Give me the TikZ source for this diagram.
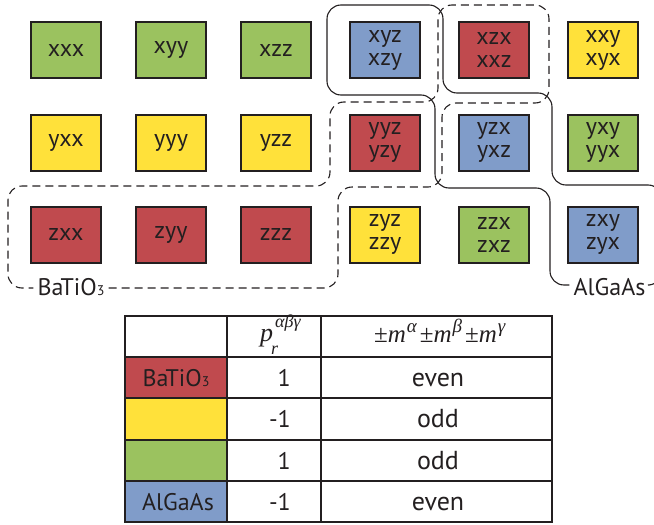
\documentclass[tikz,border=0pt]{standalone}
\usepackage{fontspec}
\setmainfont{PT Sans}
\newfontfamily\timesf{Liberation Serif}
\newcommand\tit{\timesf\itshape}
\newcommand\supsz{\fontsize{18}{18}\selectfont}
\newcommand\supszb{\fontsize{19}{19}\selectfont}
\definecolor{ink}{HTML}{231F20}
\definecolor{cgreen}{HTML}{9BC25F}
\definecolor{cyellow}{HTML}{FFE13A}
\definecolor{cred}{HTML}{C04A4E}
\definecolor{cblue}{HTML}{809CC9}
\newcommand\smallnum[1]{{\fontsize{14}{14}\selectfont #1}}
\begin{document}
\begin{tikzpicture}[x=1pt,y=-1pt,
  tensor/.style={draw=ink, line width=2pt, minimum width=70pt, minimum height=56pt,
    inner sep=0pt, align=center, text=ink, font=\fontsize{24}{23}\selectfont},
  band/.style={draw=ink, line width=1.1pt, rounded corners=14pt},
  dashband/.style={band, dash pattern=on 8pt off 5pt},
  tag/.style={text=ink, font=\fontsize{24}{24}\selectfont, inner sep=4pt},
  grid/.style={draw=ink, line width=2pt},
  cellt/.style={text=ink, font=\fontsize{24}{24}\selectfont, inner sep=0pt,
    text height=17pt, text depth=0pt},
  word/.style={cellt, font=\fontsize{26}{26}\selectfont},
  head/.style={text=ink, inner sep=0pt, anchor=base west}]
\useasboundingbox (0,0) rectangle (654,525);

% ---- tensor components, row x
\node[tensor, fill=cgreen]  (xxx) at (66,50)  {xxx};
\node[tensor, fill=cgreen]  (xyy) at (171,50) {xyy};
\node[tensor, fill=cgreen]  (xzz) at (276,50) {xzz};
\node[tensor, fill=cblue]   (xyz) at (385,50) {xyz\\xzy};
\node[tensor, fill=cred]    (xzx) at (494,50) {xzx\\xxz};
\node[tensor, fill=cyellow] (xxy) at (603,50) {xxy\\xyx};
% ---- row y
\node[tensor, fill=cyellow] (yxx) at (66,142.5)  {yxx};
\node[tensor, fill=cyellow] (yyy) at (171,142.5) {yyy};
\node[tensor, fill=cyellow] (yzz) at (276,142.5) {yzz};
\node[tensor, fill=cred]    (yyz) at (385,142.5) {yyz\\yzy};
\node[tensor, fill=cblue]   (yzx) at (494,142.5) {yzx\\yxz};
\node[tensor, fill=cgreen]  (yxy) at (603,142.5) {yxy\\yyx};
% ---- row z
\node[tensor, fill=cred]    (zxx) at (66,234.5)  {zxx};
\node[tensor, fill=cred]    (zyy) at (171,234.5) {zyy};
\node[tensor, fill=cred]    (zzz) at (276,234.5) {zzz};
\node[tensor, fill=cyellow] (zyz) at (385,234.5) {zyz\\zzy};
\node[tensor, fill=cgreen]  (zzx) at (494,234.5) {zzx\\zxz};
\node[tensor, fill=cblue]   (zxy) at (603,234.5) {zxy\\zyx};

% ---- material labels
\node[tag, anchor=base] (ba) at (71,295)    {BaTiO\smallnum{3}};
\node[tag, anchor=base] (al) at (609.5,295) {AlGaAs};
\coordinate (bline) at (0,288);
\coordinate (aline) at (0,285);

% ---- BaTiO3 group (dashed staircase)
\draw[dashband] (ba.east |- bline) -- (338,288) -- (338,187) -- (442,187)
  -- (442,103) -- (549,103) -- (549,5) -- (438,5) -- (438,102) -- (330,102)
  -- (330,186) -- (8,186) -- (8,288) -- (ba.west |- bline);

% ---- AlGaAs group (solid staircase)
\draw[band] (al.west |- aline) -- (550,285) -- (550,188) -- (435,188)
  -- (435,95) -- (327,95) -- (327,5) -- (443,5) -- (443,93) -- (552,93)
  -- (552,185) -- (662,185) -- (662,285) -- (al.east |- aline);

% ---- parity table
\fill[cred]    (125,357) rectangle (227,398);
\fill[cyellow] (125,398) rectangle (227,440);
\fill[cgreen]  (125,440) rectangle (227,481);
\fill[cblue]   (125,481) rectangle (227,522);
\draw[grid] (125,316) rectangle (552,522);
\foreach \y in {357,398,440,481} \draw[grid] (125,\y) -- (552,\y);
\foreach \x in {227,321} \draw[grid] (\x,316) -- (\x,522);

\node[head, font=\fontsize{26}{26}\selectfont] (hp) at (260,341)
  {\tit p\rlap{\kern-2pt\raisebox{-13pt}{\supsz\tit r}}\kern2pt\raisebox{14pt}{\supsz\tit αβγ}};
\node[head, font=\fontsize{25}{25}\selectfont] (hm) at (374,342)
  {{\timesf ±}{\tit m}\kern1pt\raisebox{10pt}{\supszb\tit α}\kern3pt
   {\timesf ±}{\tit m}\kern1pt\raisebox{10pt}{\supszb\tit β}\kern3pt
   {\timesf ±}{\tit m}\kern1pt\raisebox{10pt}{\supszb\tit γ}};

\node[cellt] (m1) at (176,377.5) {BaTiO\smallnum{3}};
\node[cellt] (m4) at (178,501.5) {AlGaAs};

\node[cellt, anchor=east] (p1) at (291,377.5) {1};
\node[cellt, anchor=east] (p2) at (291,419)   {-1};
\node[cellt, anchor=east] (p3) at (291,460.5) {1};
\node[cellt, anchor=east] (p4) at (291,501.5) {-1};

\node[word] (s1) at (438,377.5) {even};
\node[word] (s2) at (438,419)   {odd};
\node[word] (s3) at (438,460.5) {odd};
\node[word] (s4) at (438,501.5) {even};
\end{tikzpicture}
\end{document}
